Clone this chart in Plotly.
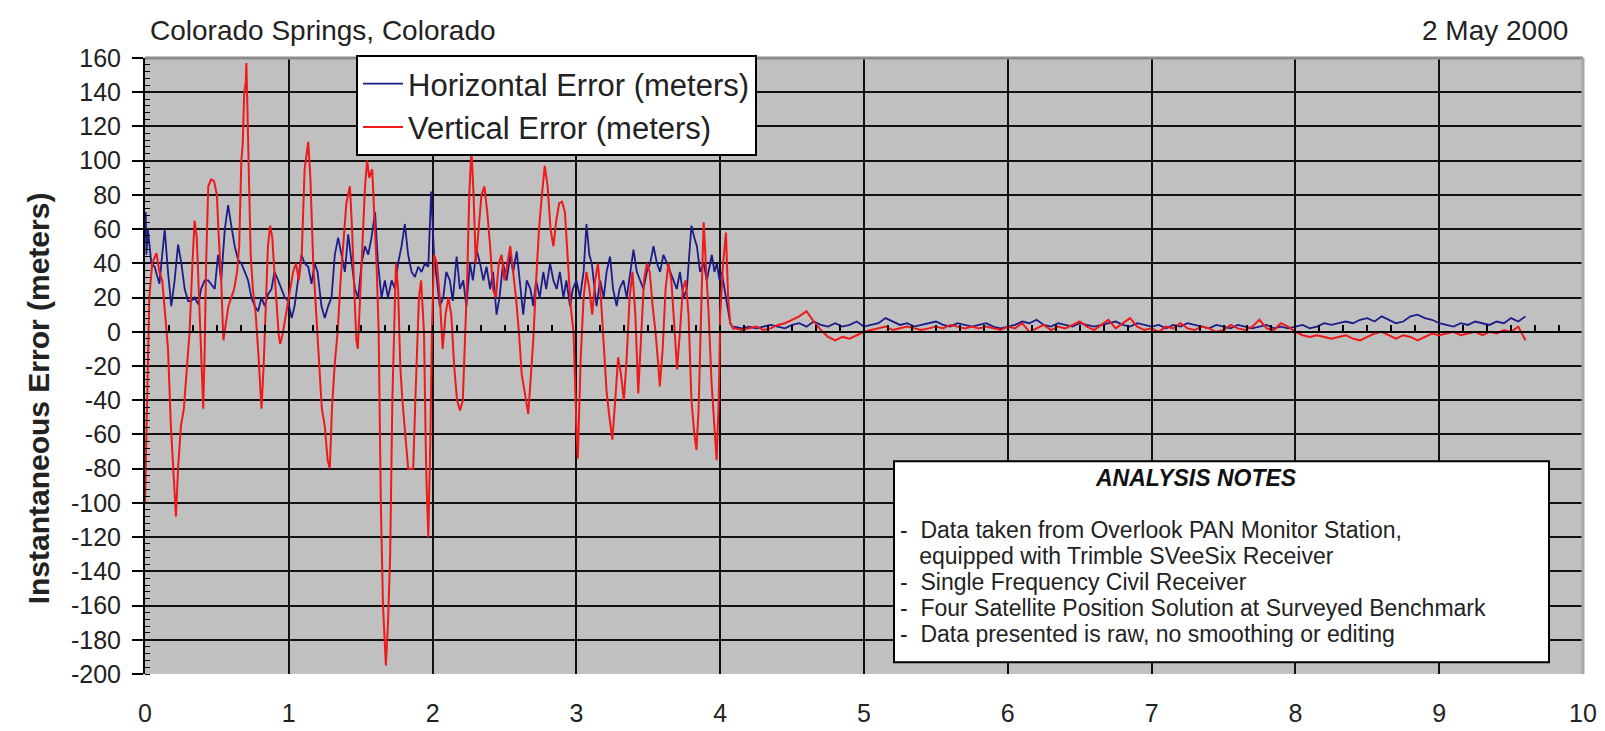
import plotly.graph_objects as go

# ---------------- data (hours, meters) ----------------
red_pre = [(0.00,-100),(0.01,-60),(0.02,-20),(0.03,20),(0.05,40),(0.08,46),(0.10,35),(0.12,30),(0.14,10),(0.16,-10),
 (0.18,-55),(0.20,-90),(0.215,-108),(0.23,-80),(0.25,-55),(0.27,-45),(0.29,-25),(0.31,0),(0.33,40),(0.345,65),
 (0.36,55),(0.38,10),(0.395,-20),(0.405,-45),(0.415,-10),(0.425,40),(0.44,85),(0.46,89),(0.48,88),(0.50,80),
 (0.51,60),(0.52,45),(0.53,30),(0.545,-5),(0.56,5),(0.58,15),(0.60,20),(0.62,25),(0.64,35),(0.655,50),
 (0.67,100),(0.68,110),(0.69,140),(0.70,145),(0.705,157),(0.715,120),(0.725,70),(0.735,45),(0.75,25),(0.77,10),
 (0.79,-15),(0.81,-45),(0.825,-20),(0.84,20),(0.855,50),(0.87,62),(0.885,55),(0.90,35),(0.915,15),(0.93,-2),
 (0.94,-7),(0.955,-2),(0.97,5),(0.99,15),(1.01,25),(1.03,35),(1.05,40),(1.07,30),(1.09,45),(1.11,95),
 (1.135,111),(1.15,90),(1.17,40),(1.19,10),(1.21,-15),(1.23,-45),(1.25,-55),(1.27,-75),(1.285,-80),(1.30,-45),
 (1.32,-18),(1.34,0),(1.36,30),(1.38,55),(1.40,75),(1.425,85),(1.44,60),(1.455,25),(1.47,-5),(1.48,-10),
 (1.49,10),(1.51,50),(1.53,85),(1.545,100),(1.56,90),(1.58,95),(1.595,70),(1.61,40),(1.625,0),(1.64,-100),
 (1.655,-160),(1.675,-195),(1.69,-170),(1.705,-130),(1.72,-40),(1.73,0),(1.745,40),(1.76,25),(1.775,-20),(1.79,-40),
 (1.81,-60),(1.83,-80),(1.85,-80),(1.865,-80),(1.88,-40),(1.89,-17),(1.905,20),(1.92,30),(1.94,0),(1.955,-80),
 (1.97,-120),(1.985,-60),(1.995,0),(2.01,45),(2.03,40),(2.05,20),(2.07,-10),(2.09,10),(2.11,20),(2.13,10),
 (2.15,-20),(2.17,-40),(2.19,-46),(2.21,-40),(2.225,-10),(2.24,30),(2.255,80),(2.27,107),(2.285,80),(2.30,40),
 (2.32,60),(2.34,80),(2.36,85),(2.38,70),(2.40,50),(2.42,25),(2.44,20),(2.46,40),(2.48,45),(2.50,30),
 (2.52,40),(2.54,50),(2.56,35),(2.58,20),(2.60,0),(2.62,-25),(2.64,-35),(2.665,-48),(2.68,-30),(2.70,-5),
 (2.72,30),(2.74,60),(2.76,80),(2.78,97),(2.80,85),(2.82,60),(2.84,50),(2.86,65),(2.88,75),(2.90,76),
 (2.92,70),(2.94,40),(2.96,15),(2.98,0),(2.99,-30),(3.00,-55),(3.01,-74),(3.02,-50),(3.03,-15),(3.05,20),
 (3.07,35),(3.09,25),(3.11,10),(3.13,30),(3.15,40),(3.17,20),(3.19,-10),(3.21,-35),(3.23,-50),(3.25,-63),
 (3.27,-40),(3.29,-15),(3.31,-25),(3.33,-40),(3.35,-15),(3.37,20),(3.39,35),(3.41,10),(3.43,-36),(3.45,-5),
 (3.47,30),(3.49,40),(3.51,35),(3.53,15),(3.55,0),(3.57,-20),(3.58,-32),(3.60,-10),(3.62,25),(3.64,40),
 (3.66,30),(3.68,5),(3.70,-22),(3.72,0),(3.74,25),(3.76,30),(3.78,10),(3.80,-40),(3.82,-60),(3.835,-69),
 (3.85,-45),(3.87,20),(3.885,64),(3.90,40),(3.92,10),(3.94,-30),(3.96,-55),(3.975,-75),(3.99,-40),(4.00,10),
 (4.02,40),(4.04,58),(4.055,20),(4.07,5),(4.09,2)]

blue_pre = [(0.00,55),(0.005,70),(0.01,45),(0.02,60),(0.044,40),(0.067,38),(0.10,28),(0.137,60),(0.16,35),(0.183,15),
 (0.206,30),(0.23,51),(0.253,40),(0.276,25),(0.30,18),(0.32,18),(0.346,20),(0.37,16),(0.39,25),(0.415,30),
 (0.44,30),(0.46,28),(0.485,25),(0.508,45),(0.53,30),(0.555,60),(0.578,74),(0.60,62),(0.624,50),(0.647,42),
 (0.67,40),(0.694,35),(0.717,30),(0.74,20),(0.763,15),(0.787,12),(0.81,20),(0.833,15),(0.856,22),(0.88,25),
 (0.90,35),(0.926,30),(0.95,25),(0.972,20),(0.995,18),(1.02,8),(1.04,15),(1.065,30),(1.088,45),(1.11,40),
 (1.135,38),(1.158,28),(1.18,40),(1.20,35),(1.227,15),(1.25,8),(1.274,15),(1.297,20),(1.32,45),(1.343,55),
 (1.367,45),(1.39,35),(1.413,57),(1.436,40),(1.46,25),(1.483,20),(1.506,40),(1.53,50),(1.552,45),(1.575,55),
 (1.60,70),(1.62,40),(1.645,20),(1.668,30),(1.69,20),(1.715,30),(1.738,25),(1.76,40),(1.784,50),(1.807,63),
 (1.83,45),(1.854,35),(1.877,32),(1.90,38),(1.923,35),(1.947,40),(1.97,38),(1.99,82),(2.01,45),(2.03,30),
 (2.05,15),(2.074,20),(2.095,35),(2.12,30),(2.14,18),(2.167,44),(2.19,25),(2.213,30),(2.235,15),(2.26,40),
 (2.28,30),(2.306,48),(2.33,40),(2.353,30),(2.375,38),(2.40,25),(2.42,35),(2.445,10),(2.465,20),(2.49,40),
 (2.515,30),(2.54,45),(2.56,35),(2.585,47),(2.61,25),(2.63,10),(2.655,30),(2.68,25),(2.70,15),(2.72,30),
 (2.745,20),(2.77,35),(2.79,25),(2.817,40),(2.84,30),(2.863,25),(2.885,35),(2.91,20),(2.93,30),(2.956,15),
 (2.975,25),(3.00,30),(3.025,20),(3.05,35),(3.07,63),(3.09,45),(3.107,40),(3.125,25),(3.14,15),(3.165,30),
 (3.19,20),(3.21,35),(3.234,44),(3.255,25),(3.28,15),(3.30,25),(3.327,30),(3.35,20),(3.374,35),(3.397,48),
 (3.42,35),(3.443,30),(3.466,25),(3.49,35),(3.513,40),(3.536,50),(3.56,40),(3.582,35),(3.605,45),(3.63,40),
 (3.655,35),(3.675,30),(3.698,25),(3.72,35),(3.745,20),(3.768,25),(3.785,45),(3.80,62),(3.82,55),(3.838,50),
 (3.86,35),(3.885,40),(3.907,30),(3.925,38),(3.942,45),(3.96,35),(3.977,40),(3.995,30),(4.01,35),(4.03,25),
 (4.05,15),(4.07,5),(4.09,2)]

# after 4.1 h, sampled every 0.05 h (4.10 ... 9.60)
post_t = [round(4.10 + 0.05 * i, 2) for i in range(111)]
post_red = [2, 1, 2, 3, 1, 2, 4, 5, 7, 9,
            12, 6, 1, -3, -5, -3, -4, -2, 0, 1,
            2, 3, 1, 2, 3, 2, 1, 2, 3, 2,
            4, 3, 2, 3, 2, 3, 2, 1, 3, 2,
            5, 0, 2, 4, 1, 3, 2, 4, 6, 3,
            1, 4, 7, 2, 5, 8, 3, 1, 2, 0,
            3, 2, 5, 2, 1, 3, 2, 0, 1, 4,
            2, 1, 3, 7, 2, 1, 5, 3, 0, -2,
            -3, -2, -3, -4, -3, -2, -4, -5, -3, -1,
            0, -2, -4, -2, -3, -5, -3, -1, -2, -1,
            0, -2, -1, 0, -2, 0, -1, 1, 0, 3, -5]
post_blue = [3, 2, 3, 2, 3, 4, 3, 2, 4, 5,
             3, 6, 4, 3, 5, 3, 4, 6, 3, 4,
             5, 8, 6, 4, 5, 3, 4, 5, 6, 4,
             3, 5, 4, 3, 4, 5, 3, 2, 3, 4,
             6, 5, 7, 4, 3, 5, 4, 3, 5, 4,
             3, 4, 5, 6, 4, 3, 5, 4, 3, 4,
             2, 4, 3, 5, 4, 3, 2, 4, 3, 2,
             4, 3, 2, 3, 4, 2, 3, 2, 3, 4,
             2, 3, 5, 4, 5, 6, 5, 7, 8, 6,
             9, 7, 5, 6, 9, 10, 8, 7, 5, 4,
             3, 5, 4, 6, 5, 4, 6, 5, 8, 6, 9]

x_ticks = list(range(0, 11))
y_ticks = list(range(-200, 161, 20))
y_ticktext = [str(v) for v in y_ticks]  # plain hyphen minus as in the original

title_left = "Colorado Springs, Colorado"
title_right = "2 May 2000"
y_title = "Instantaneous Error (meters)"
notes_title = "ANALYSIS NOTES"
notes_lines = ["-  Data taken from Overlook PAN Monitor Station,",
               "   equipped with Trimble SVeeSix Receiver",
               "-  Single Frequency Civil Receiver",
               "-  Four Satellite Position Solution at Surveyed Benchmark",
               "-  Data presented is raw, no smoothing or editing"]

red_t = [p[0] for p in red_pre] + post_t
red_v = [p[1] for p in red_pre] + post_red
blue_t = [p[0] for p in blue_pre] + post_t
blue_v = [p[1] for p in blue_pre] + post_blue

# ---------------- layout geometry (pixels) ----------------
W, H = 1605, 731
L, R, T, B = 137, 1575, 50, 678
FONT = "Liberation Sans, Arial, sans-serif"


def px(x):
    return (x - L) / (R - L)


def py(y):
    return (B - y) / (B - T)


fig = go.Figure()
fig.add_trace(go.Scatter(x=blue_t, y=blue_v, mode="lines", name="Horizontal Error (meters)",
                         line=dict(color="#1c1c8a", width=1.8), xaxis="x", yaxis="y"))
fig.add_trace(go.Scatter(x=red_t, y=red_v, mode="lines", name="Vertical Error (meters)",
                         line=dict(color="#f01818", width=2.0), xaxis="x2", yaxis="y"))

ann = []
ann.append(dict(text=title_left, x=px(140), y=py(22), xref="paper", yref="paper", xanchor="left",
                yanchor="middle", showarrow=False, font=dict(family=FONT, size=28, color="#222")))
ann.append(dict(text=title_right, x=px(1562), y=py(22), xref="paper", yref="paper", xanchor="right",
                yanchor="middle", showarrow=False, font=dict(family=FONT, size=28, color="#222")))
ann.append(dict(text="<b>%s</b>" % y_title, x=px(30), y=py(397), xref="paper", yref="paper", textangle=-90,
                xanchor="center", yanchor="middle", showarrow=False,
                font=dict(family=FONT, size=30, color="#222")))
ann.append(dict(text="<b><i>%s</i></b>" % notes_title, x=px(1188), y=py(478), xref="paper", yref="paper",
                xanchor="center", yanchor="middle", showarrow=False,
                font=dict(family=FONT, size=23, color="#111")))
line_y = [531, 557.5, 584, 610.5, 637]
for txt, yy in zip(notes_lines, line_y):
    ann.append(dict(text=txt, x=px(891), y=py(yy), xref="paper", yref="paper", xanchor="left",
                    yanchor="middle", showarrow=False, borderpad=0,
                    font=dict(family=FONT, size=23, color="#222")))

shapes = [
    dict(type="rect", xref="paper", yref="paper", x0=px(886), x1=px(1541), y0=py(666), y1=py(461),
         line=dict(color="black", width=2), fillcolor="white", layer="above"),
    dict(type="line", xref="paper", yref="paper", x0=0, x1=1, y0=1, y1=1,
         line=dict(color="#8c8c8c", width=3), layer="above"),
    dict(type="line", xref="paper", yref="paper", x0=1, x1=1, y0=0, y1=1,
         line=dict(color="#a8a8a8", width=3), layer="above"),
]

fig.update_layout(
    width=W, height=H,
    margin=dict(l=L, r=W - R, t=T, b=H - B),
    paper_bgcolor="white", plot_bgcolor="#c0c0c0",
    font=dict(family=FONT, size=25, color="#222"),
    showlegend=True,
    legend=dict(x=px(348), y=py(47), xanchor="left", yanchor="top", bgcolor="white",
                bordercolor="black", borderwidth=2, font=dict(family=FONT, size=31, color="#222"),
                tracegroupgap=0, itemwidth=40),
    xaxis=dict(range=[0, 10], tickvals=x_ticks, ticktext=[str(v) for v in x_ticks],
               showgrid=True, gridcolor="#111", gridwidth=2, zeroline=False, showline=False,
               ticks="", ticklabelstandoff=22, tickfont=dict(family=FONT, size=25, color="#222")),
    xaxis2=dict(range=[0, 10], overlaying="x", matches="x", anchor="free", position=200 / 360,
                side="bottom", showgrid=False, zeroline=False, showline=True, linecolor="black",
                linewidth=2, ticks="inside", ticklen=6, tickwidth=1.5, tickcolor="black",
                tick0=0, dtick=1 / 6, showticklabels=False),
    yaxis=dict(range=[-200, 160], tickvals=y_ticks, ticktext=y_ticktext, showgrid=True,
               gridcolor="#111", gridwidth=2,
               zeroline=False, showline=True, linecolor="black", linewidth=2,
               ticks="outside", ticklen=11, tickwidth=1.5, tickcolor="black", ticklabelstandoff=6,
               minor=dict(tick0=0, dtick=4, ticks="inside", ticklen=5, tickwidth=1.2,
                          tickcolor="black", showgrid=False),
               tickfont=dict(family=FONT, size=25, color="#222")),
    annotations=ann,
    shapes=shapes,
)

fig.write_html("out.html")
